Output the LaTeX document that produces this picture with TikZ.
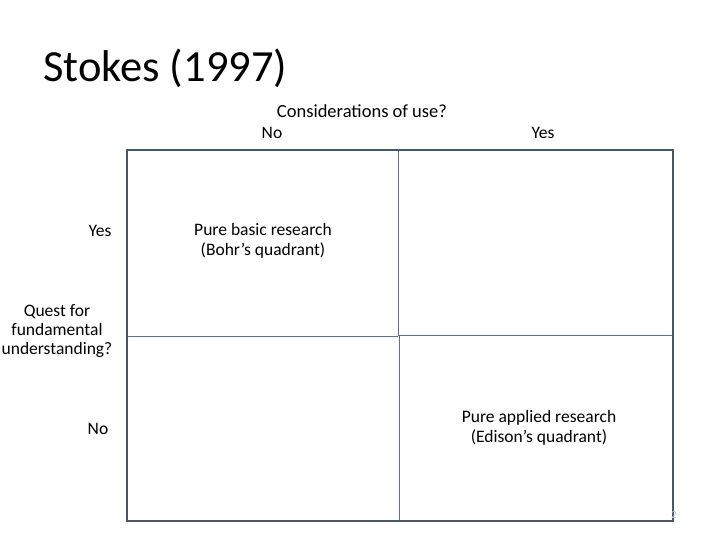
\documentclass[tikz,border=0pt]{standalone}
\usepackage{fontspec}
\setmainfont{Carlito}
\definecolor{gridouter}{HTML}{46596A}
\definecolor{gridinner}{HTML}{5B7489}
\tikzset{
  lbl/.style={font=\fontsize{17.5}{20}\selectfont, text=black, inner sep=0pt, align=center},
  cell/.style={draw=gridinner, line width=0.9pt},
}
\begin{document}
\begin{tikzpicture}[x=1pt,y=-1pt]
\useasboundingbox (0,0) rectangle (720,540);
\fill[white] (0,0) rectangle (720,540);
% title
\node[anchor=west, inner sep=0pt, font=\fontsize{44.5}{50}\selectfont] (title) at (43,68) {Stokes (1997)};
% header
\node[lbl, font=\fontsize{18.5}{20}\selectfont] (cons) at (362,111) {Considerations of use?};
\node[lbl] (colno) at (272,133) {No};
\node[lbl] (colyes) at (543,133) {Yes};
% rows
\node[lbl] (rowyes) at (100,231) {Yes};
\node[lbl] (rowno) at (98,429) {No};
\node[lbl, font=\fontsize{17.5}{19}\selectfont] (quest) at (57,331) {Quest for\\fundamental\\understanding?};
% grid
\coordinate (tl) at (127,150);
\coordinate (br) at (673,521);
\draw[cell] (127,336) -- (398,336);
\draw[cell] (398,335) -- (673,335);
\draw[cell] (398,150) -- (398,336);
\draw[cell] (399,336) -- (399,521);
\draw[draw=gridouter, line width=2.2pt] (tl) rectangle (br);
% cell texts
\node[lbl] (bohr) at (263,241) {Pure basic research\\(Bohr’s quadrant)};
\node[lbl] (edison) at (539,428) {Pure applied research\\(Edison’s quadrant)};
% page number
\node[font=\fontsize{11}{13}\selectfont, text=black!25, inner sep=0pt] (pg) at (674,515) {2};
\end{tikzpicture}
\end{document}
